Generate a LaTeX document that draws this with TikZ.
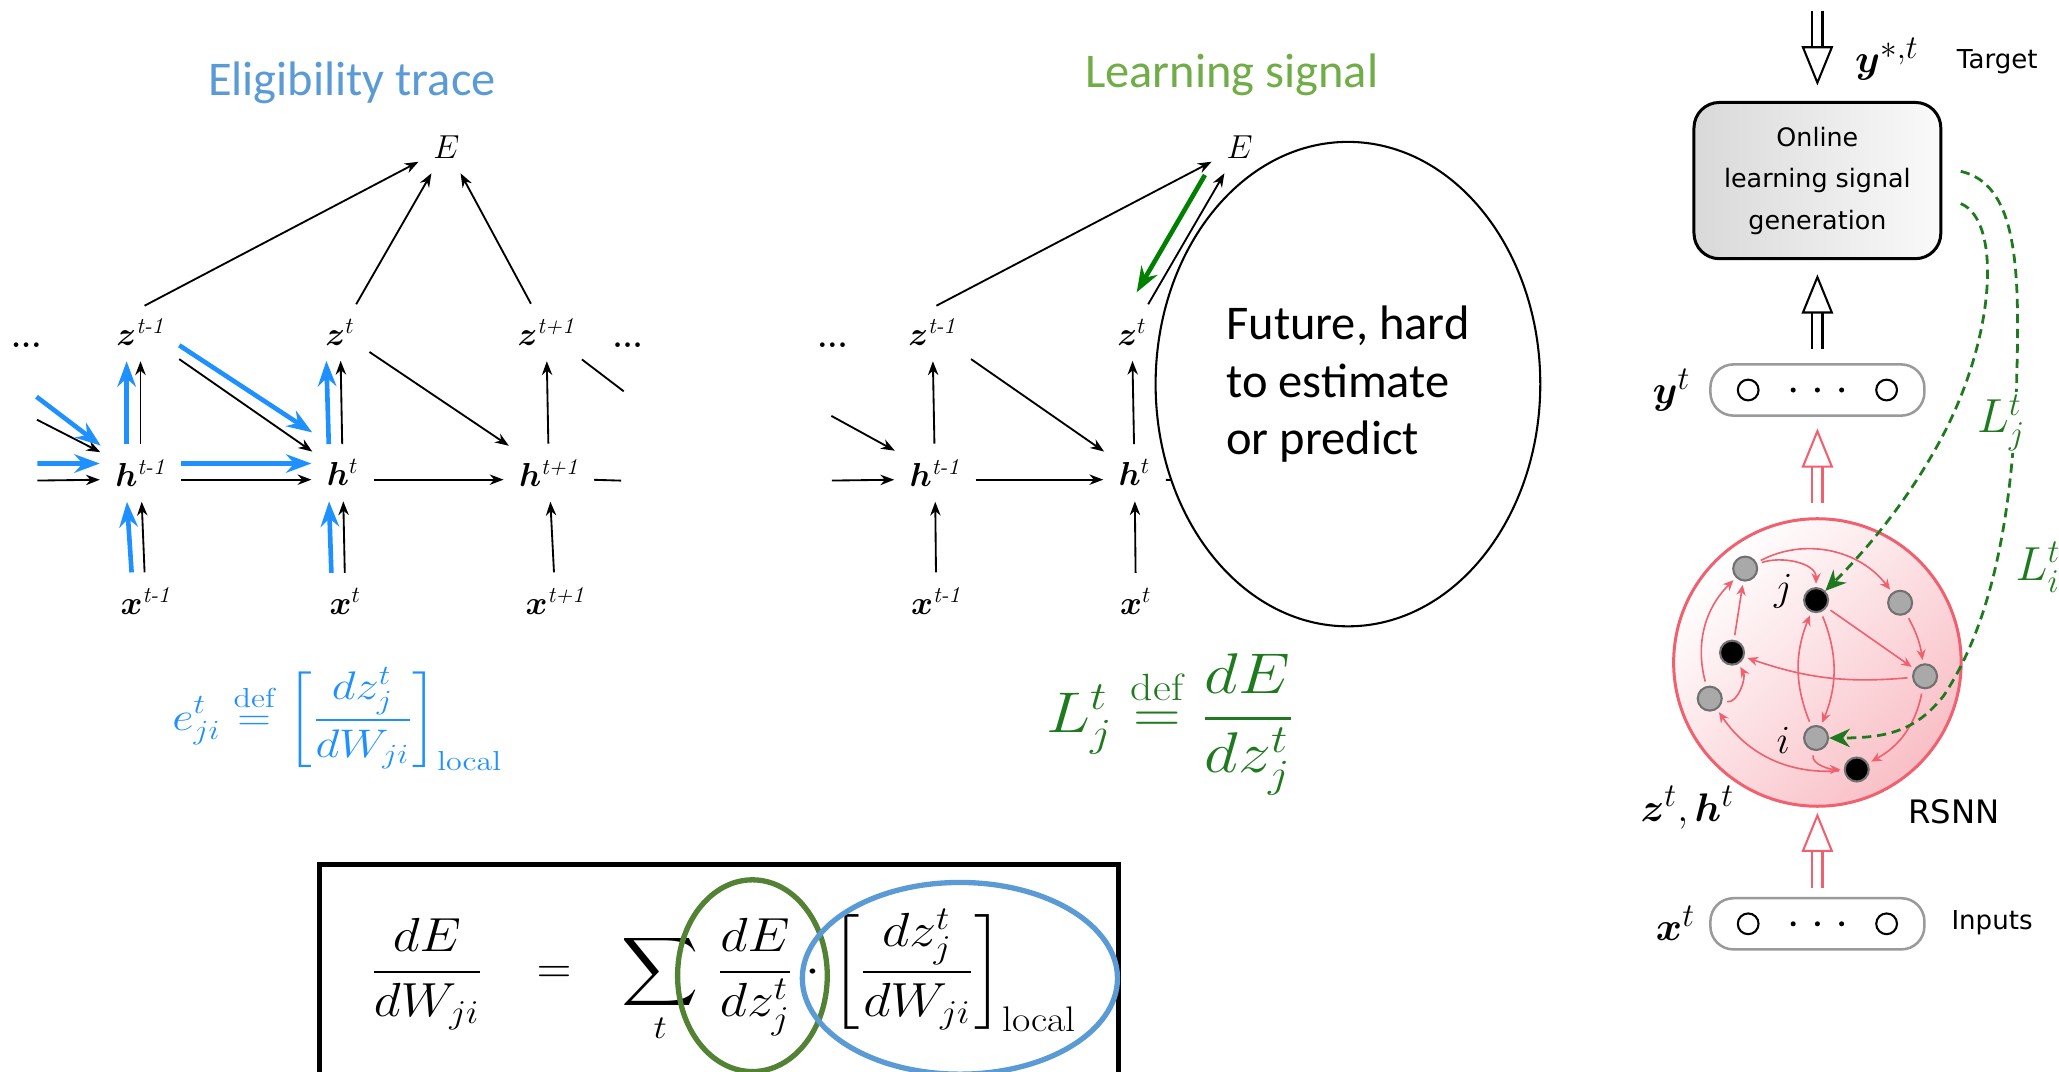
\documentclass[tikz,border=0pt]{standalone}
\usepackage{amsmath}
\usepackage{bm}
\usepackage{graphicx}
\usepackage{fontspec}
\newfontfamily\calib{Carlito}
\newfontfamily\dejav{DejaVu Sans}
\usetikzlibrary{arrows.meta, shapes.geometric, calc}
\definecolor{ElgB}{HTML}{5B9BD5}
\definecolor{ElgA}{HTML}{1E90FF}
\definecolor{LrnG}{HTML}{70AD47}
\definecolor{LrnD}{HTML}{1F7A1F}
\definecolor{LrnA}{HTML}{008000}
\definecolor{OlvG}{HTML}{548235}
\definecolor{RsnR}{HTML}{F0606E}
\definecolor{RsnF}{HTML}{F9BFC6}
\definecolor{PilG}{HTML}{9A9A9A}
\definecolor{NrnG}{HTML}{A9A9A9}
\definecolor{NrnO}{HTML}{707070}
\tikzset{
  LBL/.style={font=\fontsize{14}{16}\selectfont, inner sep=4.5pt},
  TTL/.style={font=\calib\fontsize{21}{25}\selectfont, inner sep=0pt},
  FML/.style={font=\fontsize{#1}{#1}\selectfont, inner sep=0pt},
  MTH/.style={font=\fontsize{19}{22}\selectfont, inner sep=1pt},
  SAN/.style={font=\dejav\fontsize{#1}{#1}\selectfont, inner sep=0pt},
  ARR/.style={-{Stealth[length=6pt,width=4.5pt]}, line width=0.8pt,
    shorten <=2pt, shorten >=2pt},
  BLU/.style={-{Stealth[length=11pt,width=8pt]}, line width=2pt,
    draw=ElgA, shorten <=2pt, shorten >=2pt},
  GRN/.style={-{Stealth[length=11pt,width=8pt]}, line width=2pt, draw=LrnA},
  STUB/.style={line width=0.8pt, shorten <=2pt},
  PILL/.style={draw=PilG, line width=1.1pt, rounded corners=10pt,
    minimum width=3.26cm, minimum height=0.78cm},
  UNIT/.style={circle, draw, line width=0.9pt, minimum size=9pt, inner sep=0pt},
  DOT/.style={circle, fill, inner sep=0pt, minimum size=2.2pt},
  NRN/.style={circle, draw=NrnO, fill=#1, line width=0.9pt,
    minimum size=10.4pt, inner sep=0pt},
  SYN/.style={-{Stealth[length=4.5pt,width=4pt]}, line width=0.7pt,
    draw=RsnR, shorten <=2pt, shorten >=1.5pt},
  LSIG/.style={-{Stealth[length=9pt,width=8pt]}, line width=1.2pt,
    draw=LrnD, dash pattern=on 4pt off 2.5pt},
  FAT/.pic={
    \draw[line width=0.9pt, double distance=3.5pt] (0,0) -- (0,-28);
    \draw[line width=0.9pt, fill=white, line join=miter]
      (-11,-28) -- (0,-55) -- (11,-28) -- cycle;
  },
}

\begin{document}
\begin{tikzpicture}[x=0.02cm,y=-0.02cm]
\useasboundingbox (0,0) rectangle (1568,816);

%================ ELIGIBILITY TRACE =================
\node[TTL,text=ElgB] (ttlE) at (268,63) {Eligibility trace};

\node[LBL] (E)  at (340,112) {$E$};
\node[LBL] (z1) at (107,253) {$\bm{z}^{\textit{t-1}}$};
\node[LBL] (z2) at (259,253) {$\bm{z}^{t}$};
\node[LBL] (z3) at (416,253) {$\bm{z}^{\textit{t+1}}$};
\node[LBL] (h1) at (107,360) {$\bm{h}^{\textit{t-1}}$};
\node[LBL] (h2) at (261,360) {$\bm{h}^{t}$};
\node[LBL] (h3) at (418,360) {$\bm{h}^{\textit{t+1}}$};
\node[LBL] (x1) at (111,458) {$\bm{x}^{\textit{t-1}}$};
\node[LBL] (x2) at (263,458) {$\bm{x}^{t}$};
\node[LBL] (x3) at (423,458) {$\bm{x}^{\textit{t+1}}$};
\node[LBL] (dl) at (20,263) {\textbf{...}};
\node[LBL] (dr) at (478,263) {\textbf{...}};

\coordinate (ind)  at (25,318);
\coordinate (inbd) at (25,300);
\coordinate (inh)  at (25,366);
\coordinate (inbh) at (25,353);
\coordinate (outd) at (475,298);
\coordinate (outh) at (473,366);

\draw[ARR] (z1.north) -- (E);
\draw[ARR] (z2) -- (E);
\draw[ARR] (z3) -- (E);

\draw[ARR] (h1) -- (z1);
\draw[BLU] ([xshift=-6pt]h1.north) -- ([xshift=-6pt]z1.south);
\draw[ARR] (x1) -- (h1);
\draw[BLU] ([xshift=-6pt]x1.north) -- ([xshift=-6pt]h1.south);
\draw[ARR] (h2) -- (z2);
\draw[BLU] ([xshift=-6pt]h2.north) -- ([xshift=-6pt]z2.south);
\draw[ARR] (x2) -- (h2);
\draw[BLU] ([xshift=-6pt]x2.north) -- ([xshift=-6pt]h2.south);
\draw[ARR] (h3) -- (z3);
\draw[ARR] (x3) -- (h3);

\draw[ARR] (z1) -- (h2);
\draw[BLU] ([yshift=6pt]z1.south east) -- ([yshift=6pt]h2.north west);
\draw[ARR] (z2) -- (h3);

\draw[ARR] ([yshift=-3pt]h1.east) -- ([yshift=-3pt]h2.west);
\draw[BLU] ([yshift=4pt]h1.east) -- ([yshift=4pt]h2.west);
\draw[ARR] ([yshift=-3pt]h2.east) -- ([yshift=-3pt]h3.west);

\draw[ARR] (ind) -- (h1);
\draw[BLU] (inbd) -- (h1.north west);
\draw[ARR] (inh) -- ([yshift=-3pt]h1.west);
\draw[BLU] (inbh) -- ([yshift=4pt]h1.west);

\draw[STUB] (z3) -- (outd);
\draw[STUB] ([yshift=-3pt]h3.east) -- (outh);

\node[FML=17,text=ElgA,anchor=base] (elg) at (257,556)
{\scalebox{1.17}[1]{$\displaystyle e^t_{ji}\overset{\text{def}}{=}
\left[\frac{dz^t_j}{dW_{ji}}\right]_{\text{local}}$}};

%================ LEARNING SIGNAL =================
\node[TTL,text=LrnG] (ttlL) at (938,57) {Learning signal};

\node[LBL] (mE)  at (944,112) {$E$};
\node[LBL] (mz1) at (710,253) {$\bm{z}^{\textit{t-1}}$};
\node[LBL] (mz2) at (862,253) {$\bm{z}^{t}$};
\node[LBL] (mh1) at (712,360) {$\bm{h}^{\textit{t-1}}$};
\node[LBL] (mh2) at (864,360) {$\bm{h}^{t}$};
\node[LBL] (mx1) at (713,458) {$\bm{x}^{\textit{t-1}}$};
\node[LBL] (mx2) at (865,458) {$\bm{x}^{t}$};
\node[LBL] (md)  at (634,263) {\textbf{...}};

\coordinate (mind) at (630,315);
\coordinate (minh) at (630,366);
\coordinate (mout) at (905,366);

\draw[ARR] (mz1.north) -- (mE);
\draw[ARR] (mz2) -- (mE);
\draw[GRN,shorten <=14pt,shorten >=20pt]
  ([xshift=-8pt]mE.center) -- ([xshift=-8pt]mz2.center);

\draw[ARR] (mh1) -- (mz1);
\draw[ARR] (mx1) -- (mh1);
\draw[ARR] (mh2) -- (mz2);
\draw[ARR] (mx2) -- (mh2);
\draw[ARR] (mz1) -- (mh2);
\draw[ARR] ([yshift=-3pt]mh1.east) -- ([yshift=-3pt]mh2.west);
\draw[ARR] (mind) -- (mh1);
\draw[ARR] (minh) -- ([yshift=-3pt]mh1.west);
\draw[STUB] ([yshift=-3pt]mh2.east) -- (mout);

\node[ellipse,draw,line width=0.9pt,fill=white,
minimum width=5.86cm,minimum height=7.38cm,
align=left,font=\calib\fontsize{21}{25}\selectfont]
(fut) at (1026.5,292.5) {Future, hard\\to estimate\\or predict};

\node[FML=23.5,text=LrnD,anchor=base] (lsig) at (891,558)
{\scalebox{1.15}[1]{$\displaystyle L^t_j\overset{\text{def}}{=}\frac{dE}{dz^t_j}$}};

%================ GRADIENT =================
\draw[line width=2.2pt] (243,818) |- (852,658) -- (852,818);

\node[FML=22,anchor=base] (lhs) at (325,749)
{\scalebox{1.1}[1]{$\displaystyle\frac{dE}{dW_{ji}}$}};
\node[FML=22,anchor=base] (eqs) at (422,749) {$=$};
\node[FML=22,anchor=base west] (rhs) at (473,749)
{\scalebox{1.12}[1]{$\displaystyle\sum_t\,\frac{dE}{dz^t_j}\cdot
\left[\frac{dz^t_j}{dW_{ji}}\right]_{\text{local}}$}};

\draw[line width=2.3pt,OlvG] (573,743) ellipse [x radius=57,y radius=73];
\draw[line width=2.3pt,ElgB] (731,745) ellipse [x radius=120,y radius=73];

%================ E-PROP SCHEME =================
\node[draw,line width=1.3pt,rounded corners=11pt,
minimum width=3.76cm,minimum height=2.38cm,
left color=black!15,right color=black!2,
align=center,font=\dejav\fontsize{11}{18}\selectfont]
(lsg) at (1384,137.5) {Online\\learning signal\\generation};

\coordinate (tgt) at (1384,8);
\node[MTH] (ystar) at (1437,45) {$\bm{y}^{*,t}$};
\node[SAN=11.3] (ttgt) at (1521,47) {Target};

\node[PILL] (ypill) at (1384,297) {};
\node[UNIT] (yu1) at ([xshift=-30pt]ypill.center) {};
\node[UNIT] (yu2) at ([xshift=30pt]ypill.center) {};
\node[DOT] (yd1) at ([xshift=-10.5pt]ypill.center) {};
\node[DOT] (yd2) at (ypill.center) {};
\node[DOT] (yd3) at ([xshift=10.5pt]ypill.center) {};
\node[MTH] (ylab) at (1273,297) {$\bm{y}^{t}$};

\node[PILL] (xpill) at (1384,703.5) {};
\node[UNIT] (xu1) at ([xshift=-30pt]xpill.center) {};
\node[UNIT] (xu2) at ([xshift=30pt]xpill.center) {};
\node[DOT] (xd1) at ([xshift=-10.5pt]xpill.center) {};
\node[DOT] (xd2) at (xpill.center) {};
\node[DOT] (xd3) at ([xshift=10.5pt]xpill.center) {};
\node[MTH] (xlab) at (1276,703) {$\bm{x}^{t}$};
\node[SAN=11.3] (tinp) at (1517,703) {Inputs};

\node[circle,draw=RsnR,line width=1.3pt,minimum size=4.38cm,inner sep=0pt,
top color=white,bottom color=RsnF,shading angle=45]
(rsnn) at (1384,504.5) {};
\node[MTH] (zhlab) at (1285,615) {$\bm{z}^{t},\bm{h}^{t}$};
\node[SAN=14] (trsnn) at (1488,618) {RSNN};

\pic[rotate=180] at (tgt) {FAT};
\pic at ([yshift=6pt]ypill.north) {FAT};
\pic[color=RsnR] at ([yshift=6pt]rsnn.north) {FAT};
\pic[color=RsnR] at ([yshift=4pt]xpill.north) {FAT};

% neurons
\node[NRN=NrnG]  (n1) at (1329,433) {};
\node[NRN=black] (nj) at (1383,457) {};
\node[NRN=NrnG]  (n3) at (1447,459) {};
\node[NRN=black] (n4) at (1319,497) {};
\node[NRN=NrnG]  (n5) at (1466,515) {};
\node[NRN=NrnG]  (n6) at (1302,532) {};
\node[NRN=NrnG]  (ni) at (1383,562) {};
\node[NRN=black] (n8) at (1414,586) {};
\node[MTH] (lj) at (1358,450) {$j$};
\node[MTH] (li) at (1358,564) {$i$};

\draw[SYN] (n1) to[bend left=40] (n3);
\draw[SYN] (n1) to[out=20,in=90] (nj);
\draw[SYN] (nj) -- (n5);
\draw[SYN] (n3) to[bend left=10] (n5);
\draw[SYN] (n5) to[bend left=12] (n4);
\draw[SYN] (nj) to[bend left=22] (ni);
\draw[SYN] (ni) to[bend left=22] (nj);
\draw[SYN] (n4) -- (n1);
\draw[SYN] (n6) to[bend left=30] (n1);
\draw[SYN] (n6) to[out=-10,in=-60] (n4);
\draw[SYN] (n5) to[bend left=25] (n8);
\draw[SYN] (ni) to[out=-100,in=180] (n8);
\draw[SYN] (n8) to[bend left=30] (n6);

% learning signals
\draw[LSIG] ([xshift=8pt,yshift=-10pt]lsg.east)
  .. controls (1525,168) and (1520,260) .. (1475,340)
  .. controls (1450,385) and (1420,420) .. (nj);
\draw[LSIG] ([xshift=8pt,yshift=4pt]lsg.east)
  .. controls (1535,140) and (1538,200) .. (1536,280)
  .. controls (1534,380) and (1520,470) .. (1480,530)
  .. controls (1460,555) and (1440,562) .. (ni);
\node[font=\fontsize{21}{24}\selectfont,text=LrnD,fill=white,inner sep=1pt]
(Lj) at (1524,322) {$L^t_j$};
\node[font=\fontsize{21}{24}\selectfont,text=LrnD,inner sep=1pt]
(Li) at (1552,432) {$L^t_i$};

\end{tikzpicture}
\end{document}
